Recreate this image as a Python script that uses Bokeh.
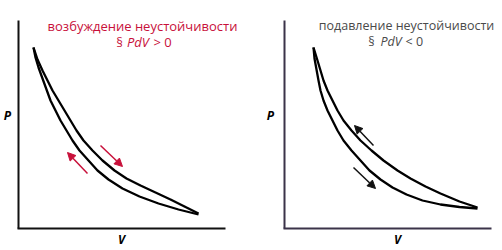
from bokeh.plotting import figure
from bokeh.layouts import row
from bokeh.models import Range1d, FixedTicker, Arrow, NormalHead, ColumnDataSource
from bokeh.core.properties import value
from bokeh.embed import file_html
from bokeh.resources import INLINE

# ---- data (arbitrary V, P units) ----
# left panel: instability excitation (cycle encloses positive work)
left_inner_V = [15, 17, 20, 24, 28, 32, 37, 42, 48, 54, 61, 70, 79, 90, 104, 121, 140, 160, 180]
left_inner_P = [181, 171, 161, 150, 139, 128, 118, 108, 98, 88, 78, 68, 58, 49, 40, 32, 25, 19, 14]
left_outer_V = [15, 19, 24, 29, 34, 40, 46, 52, 58, 65, 74, 84, 96, 108, 122, 137, 152, 166, 180]
left_outer_P = [181, 169, 158, 148, 138, 128, 118, 108, 98, 88, 78, 68, 58, 50, 43, 36, 29, 22, 15]
left_arrows = dict(x0=[82, 69], y0=[83, 55], x1=[104, 49], y1=[62, 76])

# right panel: instability damping
right_inner_V = [29, 30, 32, 34, 36, 39, 43, 48, 53, 59, 67, 76, 85, 96, 108, 122, 138, 156, 175, 193]
right_inner_P = [181, 170, 159, 148, 138, 128, 118, 108, 98, 88, 78, 68, 58, 49, 41, 34, 28, 24, 21.5, 20]
right_outer_V = [29, 33, 36, 39, 43, 48, 53, 59, 67, 76, 87, 99, 113, 126, 141, 156, 175, 193]
right_outer_P = [181, 168, 158, 148, 138, 128, 118, 108, 98, 88, 78, 68, 58, 50, 42, 35, 27, 21]
right_arrows = dict(x0=[89, 69], y0=[83, 61], x1=[70, 91], y1=[103, 40])

left_title = "возбуждение неустойчивости"
right_title = "подавление неустойчивости"
left_sign = "> 0"
right_sign = "< 0"
axis_names = ("P", "V")

FONT = "Open Sans"
RED = "#c8103a"
GRAY = "#4a4a4a"


def make_panel(ox, inner, outer, arrows, arrow_color, axis_color,
               title, sign, title_color, tx, sx, title_size, px, vx):
    p = figure(width=251, height=250, output_backend="svg", toolbar_location=None,
               x_range=Range1d(-ox, 251 - ox), y_range=Range1d(-22, 228),
               min_border=0)
    p.outline_line_color = None
    p.grid.visible = False
    p.background_fill_color = "white"
    p.border_fill_color = "white"
    for ax in (p.xaxis[0], p.yaxis[0]):
        ax.ticker = FixedTicker(ticks=[])
        ax.major_tick_out = 0
        ax.major_tick_in = 0
        ax.minor_tick_out = 0
        ax.minor_tick_in = 0
        ax.major_label_standoff = 0
        ax.major_label_text_font_size = "0px"
        ax.axis_label = None
        ax.fixed_location = 0
        ax.axis_line_color = axis_color
        ax.axis_line_width = 2
    p.xaxis[0].bounds = (-1, 207)
    p.yaxis[0].bounds = (0, 208)

    p.line(inner[0], inner[1], line_color="black", line_width=2.3, line_join="round")
    p.line(outer[0], outer[1], line_color="black", line_width=2.3, line_join="round")

    src = ColumnDataSource(arrows)
    p.add_layout(Arrow(source=src, x_start="x0", y_start="y0", x_end="x1", y_end="y1",
                       line_color=arrow_color, line_width=1.5,
                       end=NormalHead(size=8, fill_color=arrow_color, line_color=arrow_color,
                                      line_width=1)))

    def txt(x, y, t, align="center", style="normal", color=title_color, size=title_size):
        p.text(x=[x], y=[y], text=[t], text_font=value(FONT), text_font_size=size,
               text_font_style=style, text_color=color, text_align=align,
               text_baseline="middle")

    txt(tx, 203, title)
    txt(sx[0], 187, "§")
    txt(sx[1], 187, "PdV", style="italic")
    txt(sx[2], 187, sign, align="left")
    txt(px, 113, axis_names[0], style="bold italic", color="black", size="12px")
    txt(vx, -11, axis_names[1], style="bold italic", color="black", size="12px")
    return p


pl = make_panel(18, (left_inner_V, left_inner_P), (left_outer_V, left_outer_P),
                left_arrows, RED, "#111111", left_title, left_sign, RED, 124,
                (101, 119.5, 135), "13px", -11, 103)
pr = make_panel(33, (right_inner_V, right_inner_P), (right_outer_V, right_outer_P),
                right_arrows, "#111111", "#3b3349", right_title, right_sign, GRAY, 122,
                (87, 106.5, 121), "12.5px", -14, 113)

layout = row(pl, pr)
open("out.html", "w").write(file_html(layout, INLINE))
